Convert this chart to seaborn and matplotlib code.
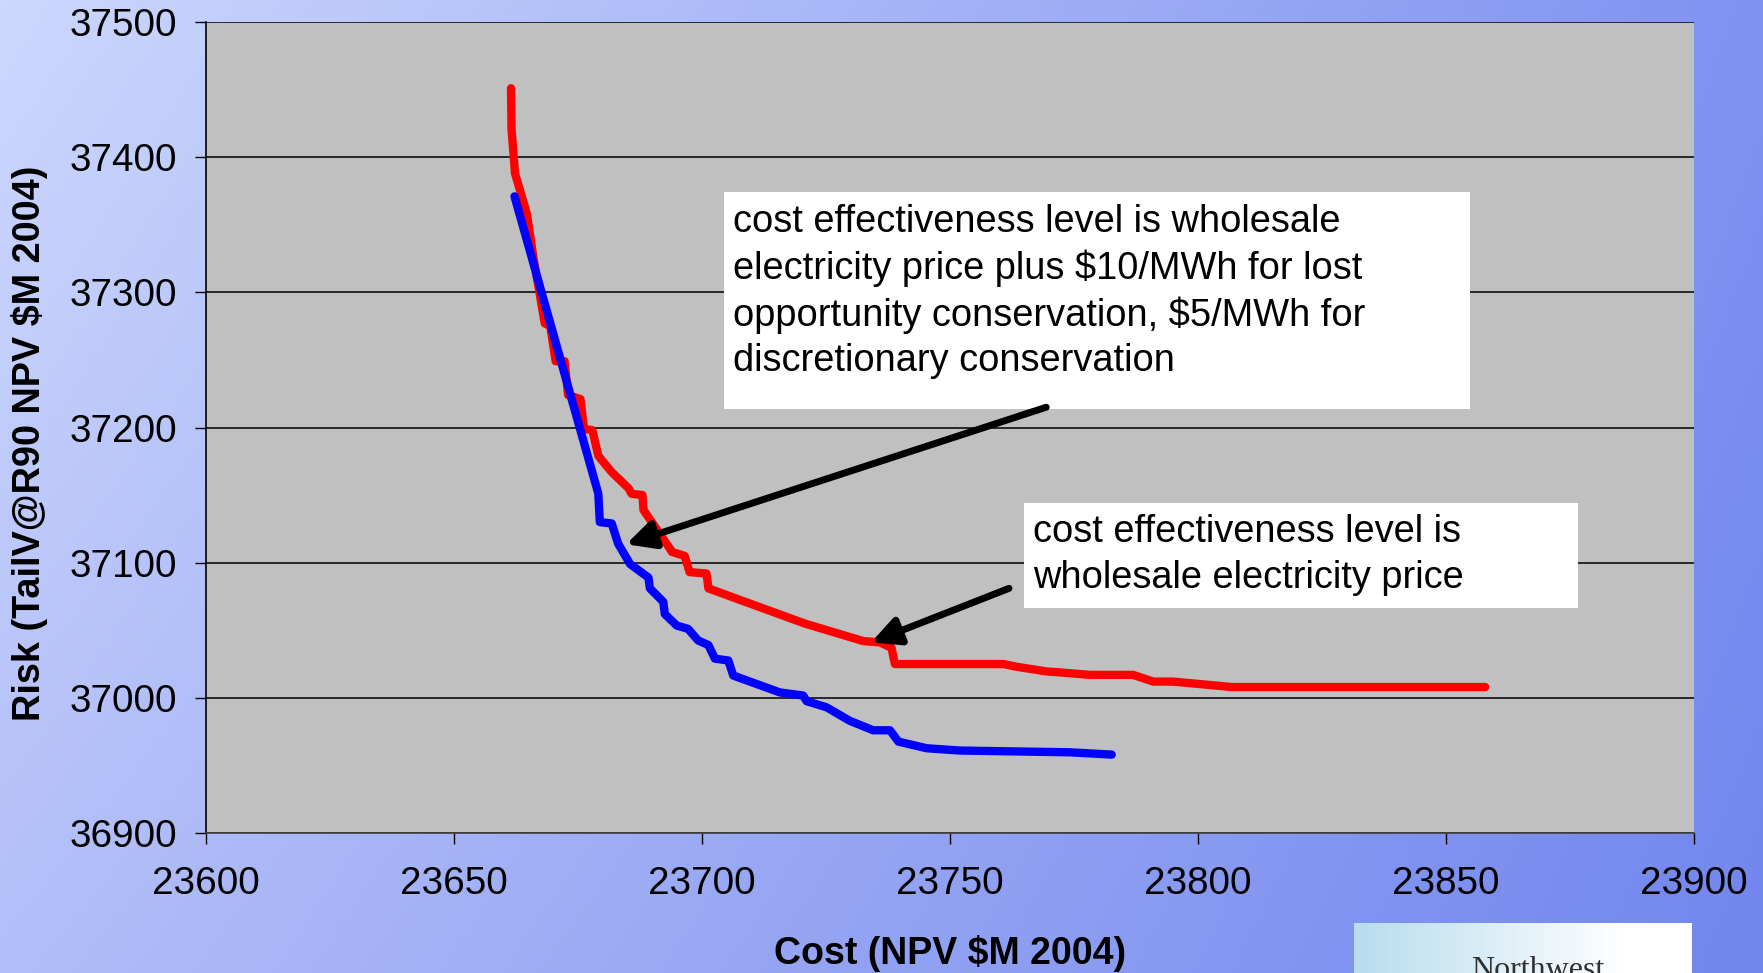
import numpy as np
import pandas as pd
import matplotlib
matplotlib.use("Agg")
import matplotlib.pyplot as plt
import seaborn as sns
from matplotlib.patches import Rectangle

# ---------------- data ----------------
red_cost = [23661.5, 23661.6, 23662.3, 23664.7, 23666.0, 23668.3, 23669.4, 23670.5,
            23672.3, 23673.0, 23675.5, 23676.2, 23677.9, 23679.1, 23681.8, 23685.2,
            23685.8, 23688.0, 23688.2, 23691.0, 23693.6, 23693.9, 23696.5, 23697.5,
            23700.9, 23701.3, 23705.0, 23720.7, 23732.5, 23735.9, 23738.2, 23738.9,
            23760.8, 23763.4, 23769.5, 23771.5, 23778.2, 23786.9, 23791.0, 23795.0,
            23806.8, 23857.9]
red_risk = [37451, 37421, 37388, 37358, 37326, 37277, 37275, 37249,
            37249, 37224, 37221, 37199, 37198, 37179, 37167, 37155,
            37151, 37150, 37139, 37124, 37110, 37108, 37105, 37093,
            37092, 37081, 37076, 37055, 37042, 37041, 37037, 37025,
            37025, 37023, 37019.5, 37019, 37017, 37017, 37012, 37012,
            37008, 37008]

blue_cost = [23662.2, 23679.1, 23679.4, 23681.8, 23683.1, 23685.5, 23689.2, 23689.5,
             23692.2, 23692.5, 23694.9, 23697.2, 23699.2, 23701.3, 23702.6, 23705.3,
             23706.3, 23715.7, 23720.4, 23721.1, 23725.1, 23729.8, 23734.5, 23737.9,
             23739.6, 23745.3, 23752.0, 23774.2, 23782.6]
blue_risk = [37371, 37151, 37130, 37129, 37114, 37099, 37089, 37081,
             37071, 37062, 37053.5, 37051, 37042.5, 37039, 37029, 37027.6,
             37016.5, 37004, 37001.7, 36997.5, 36993, 36983, 36976, 36976,
             36967.6, 36962.7, 36961, 36959.7, 36958]

x_ticks = [23600, 23650, 23700, 23750, 23800, 23850, 23900]
y_ticks = [36900, 37000, 37100, 37200, 37300, 37400, 37500]

note1 = ("cost effectiveness level is wholesale\n"
         "electricity price plus $10/MWh for lost\n"
         "opportunity conservation, $5/MWh for\n"
         "discretionary conservation")
note2 = "cost effectiveness level is\nwholesale electricity price"
x_label = "Cost (NPV $M 2004)"
y_label = "Risk (TailV@R90 NPV $M 2004)"
logo_text = "Northwest"

# arrows (data coordinates: tail -> head)
arrow1 = ((23769.4, 37215.0), (23684.7, 37113.6))
arrow2 = ((23761.9, 37081.0), (23734.1, 37041.0))

# ---------------- figure ----------------
plt.rcParams['font.family'] = ['Liberation Sans', 'DejaVu Sans']
W, H = 1763, 973
fig = plt.figure(figsize=(W / 100, H / 100), dpi=100)

def fx(px):
    return px / W

def fy(py):
    return 1 - py / H

# gradient background
bg = fig.add_axes([0, 0, 1, 1], zorder=0)
gx = np.linspace(0, 1, 300)[None, :]
gy = np.linspace(0, 1, 200)[:, None]
TL = np.array([204, 216, 253]) / 255
TR = np.array([128, 146, 241]) / 255
BL = np.array([178, 190, 248]) / 255
BR = np.array([114, 134, 238]) / 255
img = ((1 - gx)[..., None] * (1 - gy)[..., None] * TL + gx[..., None] * (1 - gy)[..., None] * TR
       + (1 - gx)[..., None] * gy[..., None] * BL + gx[..., None] * gy[..., None] * BR)
bg.imshow(img, aspect='auto', extent=[0, 1, 0, 1], origin='upper')
bg.set_axis_off()

# logo box (bottom right)
lg = fig.add_axes([fx(1354), 0, fx(1692) - fx(1354), (973 - 923) / H], zorder=1)
lgx = np.linspace(0, 1, 200)[None, :]
c0 = np.array([184, 220, 238]) / 255
c1 = np.array([255, 255, 255]) / 255
t = np.clip(lgx / 0.8, 0, 1)[..., None]
lg.imshow(np.repeat((1 - t) * c0 + t * c1, 5, axis=0), aspect='auto', extent=[0, 1, 0, 1])
lg.set_axis_off()
fig.text(fx(1538), fy(978), logo_text, family=['Liberation Serif', 'DejaVu Serif'],
         fontsize=23, color='#303030', ha='center', va='baseline', zorder=2)

# main axes
ax = fig.add_axes([fx(206), fy(833), fx(1694) - fx(206), (833 - 22) / H], zorder=3)
ax.set_facecolor('#c0c0c0')

df_red = pd.DataFrame({'cost': red_cost, 'risk': red_risk})
df_blue = pd.DataFrame({'cost': blue_cost, 'risk': blue_risk})
sns.lineplot(data=df_red, x='cost', y='risk', ax=ax, sort=False, estimator=None,
             color='#ff0000', lw=6, solid_capstyle='round', solid_joinstyle='round', zorder=4)
sns.lineplot(data=df_blue, x='cost', y='risk', ax=ax, sort=False, estimator=None,
             color='#0000ff', lw=6, solid_capstyle='round', solid_joinstyle='round', zorder=5)

ax.set_xlim(x_ticks[0], x_ticks[-1])
ax.set_ylim(y_ticks[0], y_ticks[-1])
ax.set_xticks(x_ticks)
ax.set_yticks(y_ticks)
ax.set_xticklabels([str(v) for v in x_ticks])
ax.set_yticklabels([str(v) for v in y_ticks])
ax.yaxis.grid(True, color='black', lw=1.1)
ax.xaxis.grid(False)
ax.set_axisbelow(True)
for s in ['top', 'right']:
    ax.spines[s].set_visible(False)
ax.spines['left'].set_color('black')
ax.spines['left'].set_linewidth(1.2)
ax.spines['bottom'].set_color('#404040')
ax.spines['bottom'].set_linewidth(1.2)
ax.tick_params(axis='both', direction='out', length=8, width=1, color='black',
               labelsize=27.8, labelcolor='black')
ax.tick_params(axis='y', pad=13)
ax.tick_params(axis='x', pad=16)

ax.set_xlabel(x_label, fontsize=27, fontweight='bold')
ax.set_ylabel(y_label, fontsize=27.3, fontweight='bold')
ax.xaxis.set_label_coords(0.5, -(953 - 833) / 811)
ax.xaxis.label.set_va('center')
ax.yaxis.set_label_coords((30 - 206) / 1488, (833 - 443) / 811)
ax.yaxis.label.set_va('center')

# annotation boxes
ax.add_patch(Rectangle((fx(724), fy(409)), fx(1470) - fx(724), (409 - 192) / H,
                       transform=fig.transFigure, facecolor='white', edgecolor='none',
                       clip_on=False, zorder=6))
ax.text(fx(733), fy(204), note1, transform=fig.transFigure, fontsize=27.4,
        ha='left', va='top', linespacing=1.32, zorder=7)
ax.add_patch(Rectangle((fx(1024), fy(608)), fx(1578) - fx(1024), (608 - 503) / H,
                       transform=fig.transFigure, facecolor='white', edgecolor='none',
                       clip_on=False, zorder=6))
ax.text(fx(1033), fy(514), note2, transform=fig.transFigure, fontsize=27.4,
        ha='left', va='top', linespacing=1.37, zorder=7)

for (tail, head) in (arrow1, arrow2):
    ax.annotate('', xy=head, xytext=tail, xycoords='data', textcoords='data',
                arrowprops=dict(arrowstyle='-|>', color='black', lw=5,
                                mutation_scale=42, shrinkA=0, shrinkB=0),
                zorder=8, annotation_clip=False)

fig.savefig('out.png', dpi=100)
